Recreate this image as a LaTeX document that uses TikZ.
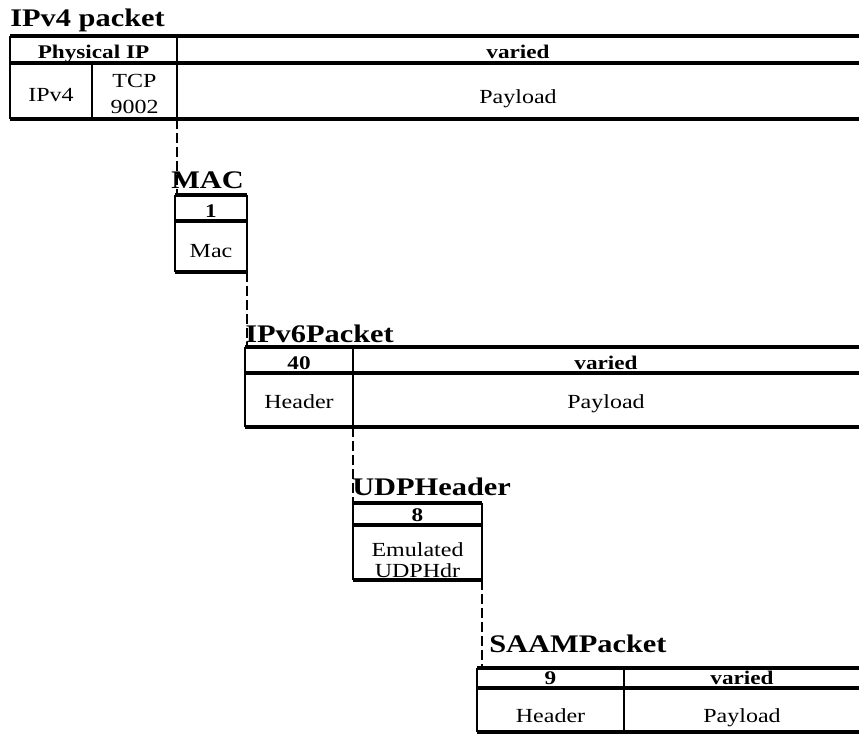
\documentclass[tikz,border=0pt]{standalone}
\usepackage{fontspec}
\setmainfont{Liberation Serif}[FakeStretch=1.2]
\begin{document}
\begin{tikzpicture}[x=0.75pt,y=-0.75pt,
  hl/.style={line width=2.8pt},
  vl/.style={line width=1.9pt},
  conn/.style={line width=1.6pt, dash pattern=on 7.5pt off 3pt},
  ttl/.style={anchor=base west, inner sep=0pt, font=\fontsize{19}{21}\selectfont\bfseries},
  hd/.style={anchor=base, inner sep=0pt, font=\fontsize{14.5}{16}\selectfont\bfseries},
  bd/.style={anchor=base, inner sep=0pt, font=\fontsize{15}{17}\selectfont}]
\useasboundingbox (0,0) rectangle (859,743);

% ---------- IPv4 packet ----------
\node[ttl] (t4) at (10,26) {IPv4 packet};
\draw[hl] (10,36) -- (859,36) (10,63) -- (859,63) (10,119) -- (859,119);
\draw[vl] (10,36) -- (10,119) (177,36) -- (177,119) (92,63) -- (92,119);
\node[hd] (v4h1) at (93.5,58) {Physical IP};
\node[hd] (v4h2) at (518,58) {varied};
\node[bd] (v4b1) at (51,101) {IPv4};
\node[bd] (v4b2a) at (134.5,87) {TCP};
\node[bd] (v4b2b) at (134.5,113) {9002};
\node[bd] (v4b3) at (518,103) {Payload};
\coordinate (v4out) at (177,119);

% ---------- MAC ----------
\node[ttl] (tmac) at (171,188) {MAC};
\draw[hl] (175,195) -- (247,195) (175,221) -- (247,221) (175,272) -- (247,272);
\draw[vl] (175,195) -- (175,272) (247,195) -- (247,272);
\node[hd] (mach) at (211,217) {1};
\node[bd] (macb) at (211,257) {Mac};
\coordinate (macin) at (175,195);
\coordinate (macout) at (247,272);

% ---------- IPv6Packet ----------
\node[ttl] (t6) at (245,342) {IPv6Packet};
\draw[hl] (245,347) -- (859,347) (245,373) -- (859,373) (245,427) -- (859,427);
\draw[vl] (245,347) -- (245,427) (353,347) -- (353,427);
\node[hd] (v6h1) at (299,369) {40};
\node[hd] (v6h2) at (606,369) {varied};
\node[bd] (v6b1) at (299,408) {Header};
\node[bd] (v6b2) at (606,408) {Payload};
\coordinate (v6in) at (245,347);
\coordinate (v6out) at (353,427);

% ---------- UDPHeader ----------
\node[ttl] (tudp) at (352,495) {UDPHeader};
\draw[hl] (353,503) -- (482,503) (353,525) -- (482,525) (353,580) -- (482,580);
\draw[vl] (353,503) -- (353,580) (482,503) -- (482,580);
\node[hd] (udph) at (417.5,521) {8};
\node[bd] (udpb1) at (417.5,556) {Emulated};
\node[bd] (udpb2) at (417.5,577) {UDPHdr};
\coordinate (udpin) at (353,503);
\coordinate (udpout) at (482,580);

% ---------- SAAMPacket ----------
\node[ttl] (tsaam) at (489,652) {SAAMPacket};
\draw[hl] (477,668) -- (859,668) (477,688) -- (859,688) (477,732) -- (859,732);
\draw[vl] (477,668) -- (477,732) (624,668) -- (624,732);
\node[hd] (sah1) at (550.5,684) {9};
\node[hd] (sah2) at (742,684) {varied};
\node[bd] (sab1) at (550.5,722) {Header};
\node[bd] (sab2) at (742,722) {Payload};
\coordinate (sain) at (477,668);

% ---------- dashed connectors ----------
\draw[conn] (v4out) -- (v4out |- macin);
\draw[conn] (macout) -- (macout |- v6in);
\draw[conn] (v6out) -- (v6out |- udpin);
\draw[conn] (udpout) -- (udpout |- sain);
\end{tikzpicture}
\end{document}
